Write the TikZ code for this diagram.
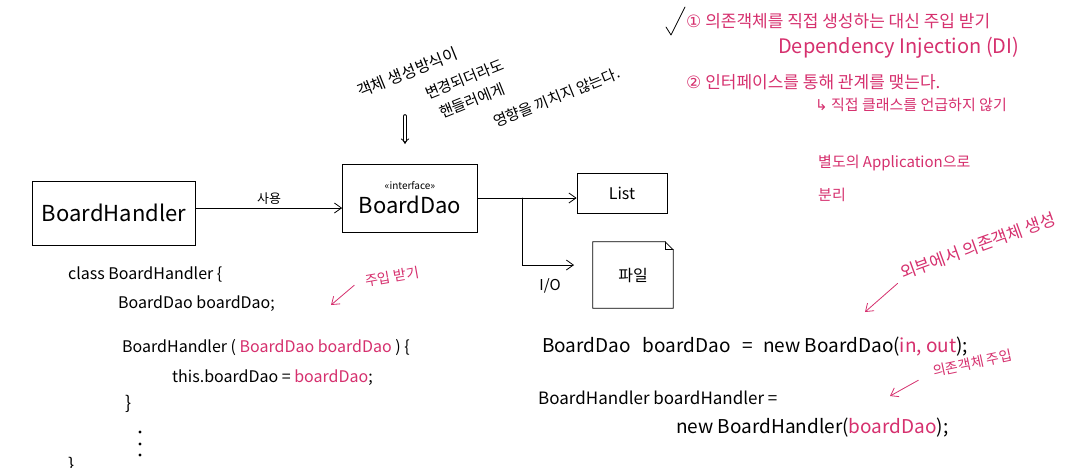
\documentclass[tikz,border=0pt]{standalone}
\usepackage{fontspec}
\setmainfont{Noto Sans CJK KR}
\newfontfamily\symfont{DejaVu Sans}
\usetikzlibrary{arrows.meta,positioning}
\definecolor{pen}{RGB}{214,48,110}

\tikzset{
  hbox/.style={draw,thick},
  sz/.style={font=\fontsize{#1}{#1}\selectfont},
  code/.style={anchor=base west,inner sep=0pt},
  pinktxt/.style={text=pen,anchor=base west,inner sep=0pt},
  note/.style={anchor=base west,inner sep=0pt,rotate=22,sz=15},
  parrow/.style={pen,thick,-{Straight Barb[length=7pt,width=10pt]}}
}

\begin{document}
\begin{tikzpicture}[x=1pt,y=-1pt,line cap=round,
    >={Straight Barb[length=7pt,width=10pt]}]
    \useasboundingbox (0,0) rectangle (1083,467);
    \clip (0,0) rectangle (1083,467);
    \fill[white] (0,0) rectangle (1083,467);

    % classes
    \node[hbox,minimum width=163pt,minimum height=64pt,sz=22] (handler) at (114,213) {BoardHandler};
    \node[hbox,minimum width=135pt,minimum height=68pt,sz=22,align=center] (dao) at (410,198)
        {{\fontsize{10}{10}\selectfont «interface»}\\[2pt]BoardDao};
    \node[hbox,minimum width=90pt,minimum height=40pt,sz=16] (list) at (622,193) {List};
    \node[minimum width=80pt,minimum height=66pt,sz=16] (file) at (633,275) {파일};
    \draw[thick] (file.north west) -- ([xshift=-8pt]file.north east) -- ([yshift=-8pt]file.north east)
        -- (file.south east) -- (file.south west) -- cycle;
    \draw[thick] ([xshift=-8pt]file.north east) -- ([xshift=-8pt,yshift=-8pt]file.north east)
        -- ([yshift=-8pt]file.north east);

    % relations
    \draw[thick,->] ([yshift=5pt]handler.east) -- node[above,sz=13] (use) {사용} ([yshift=5pt]handler.east -| dao.west);
    \draw[thick,->] (dao.east) -- (dao.east -| list.west);
    \coordinate (split) at (522,198);
    \coordinate (io) at (574,265);
    \draw[thick,->] (split) |- (io);
    \node[sz=15] (iolabel) at (550,286) {I/O};

    % note on the interface
    \node[note,sz=16] (n1) at (360,98) {객체 생성방식이};
    \node[note] (n2) at (428,100) {변경되더라도};
    \node[note] (n3) at (442,119) {핸들러에게};
    \node[note] (n4) at (496,128) {영향을 끼치지 않는다.};
    \coordinate (dn) at (405,116);
    \draw[thick,double,double distance=2pt,-{Implies}] (dn) -- ++(0,28);

    % class code
    \node[code,sz=16] (c1) at (68,279) {class BoardHandler \{};
    \node[code,sz=16] (c2) at (118,308) {BoardDao boardDao;};
    \node[code,sz=16] (c3) at (122,352) {BoardHandler ( {\color{pen}BoardDao boardDao} ) \{};
    \node[code,sz=16] (c4) at (172,382) {this.boardDao = {\color{pen}boardDao};};
    \node[code,sz=18] (c5) at (125,409) {\}};
    \foreach \y in {432,444,455} \fill (140,\y) circle (1.6pt);
    \node[code,sz=18] (c6) at (68,471) {\}};

    \node[pinktxt,sz=14,rotate=10] (inj) at (366,287) {주입 받기};
    \coordinate (injend) at (331,305);
    \draw[parrow] (inj.south west) ++(-12,-3) -- (injend);

    % main code
    \node[code,sz=19] (m1) at (542,352) {BoardDao\hspace{12pt}boardDao\hspace{12pt}=\hspace{10pt}new BoardDao({\color{pen}in, out});};
    \node[code,sz=17] (m2) at (538,404) {BoardHandler boardHandler =};
    \node[code,sz=19] (m3) at (676,433) {new BoardHandler({\color{pen}boardDao});};

    \node[pinktxt,sz=17,rotate=20] (outside) at (903,280) {외부에서 의존객체 생성};
    \coordinate (outend) at (865,312);
    \draw[parrow] (outside.south west) ++(-6,2) -- (outend);
    \node[pinktxt,sz=14,rotate=12] (depinj) at (934,377) {의존객체 주입};
    \coordinate (depend) at (890,396);
    \draw[parrow] (depinj.south west) ++(-16,2) -- (depend);

    % notes on the right
    \draw[thick,line join=round] (666,27) -- (671,35) -- (685,7);
    \node[pinktxt,sz=17] (p1) at (686,27) {{\symfont ①} 의존객체를 직접 생성하는 대신 주입 받기};
    \node[pinktxt,sz=20] (p2) at (778,53) {Dependency Injection (DI)};
    \node[pinktxt,sz=17] (p3) at (686,88) {{\symfont ②} 인터페이스를 통해 관계를 맺는다.};
    \node[pinktxt,sz=15] (p4) at (815,110) {{\symfont ↳} 직접 클래스를 언급하지 않기};
    \node[pinktxt,sz=15] (p5) at (818,167) {별도의 Application으로};
    \node[pinktxt,sz=15] (p6) at (818,200) {분리};
\end{tikzpicture}
\end{document}
